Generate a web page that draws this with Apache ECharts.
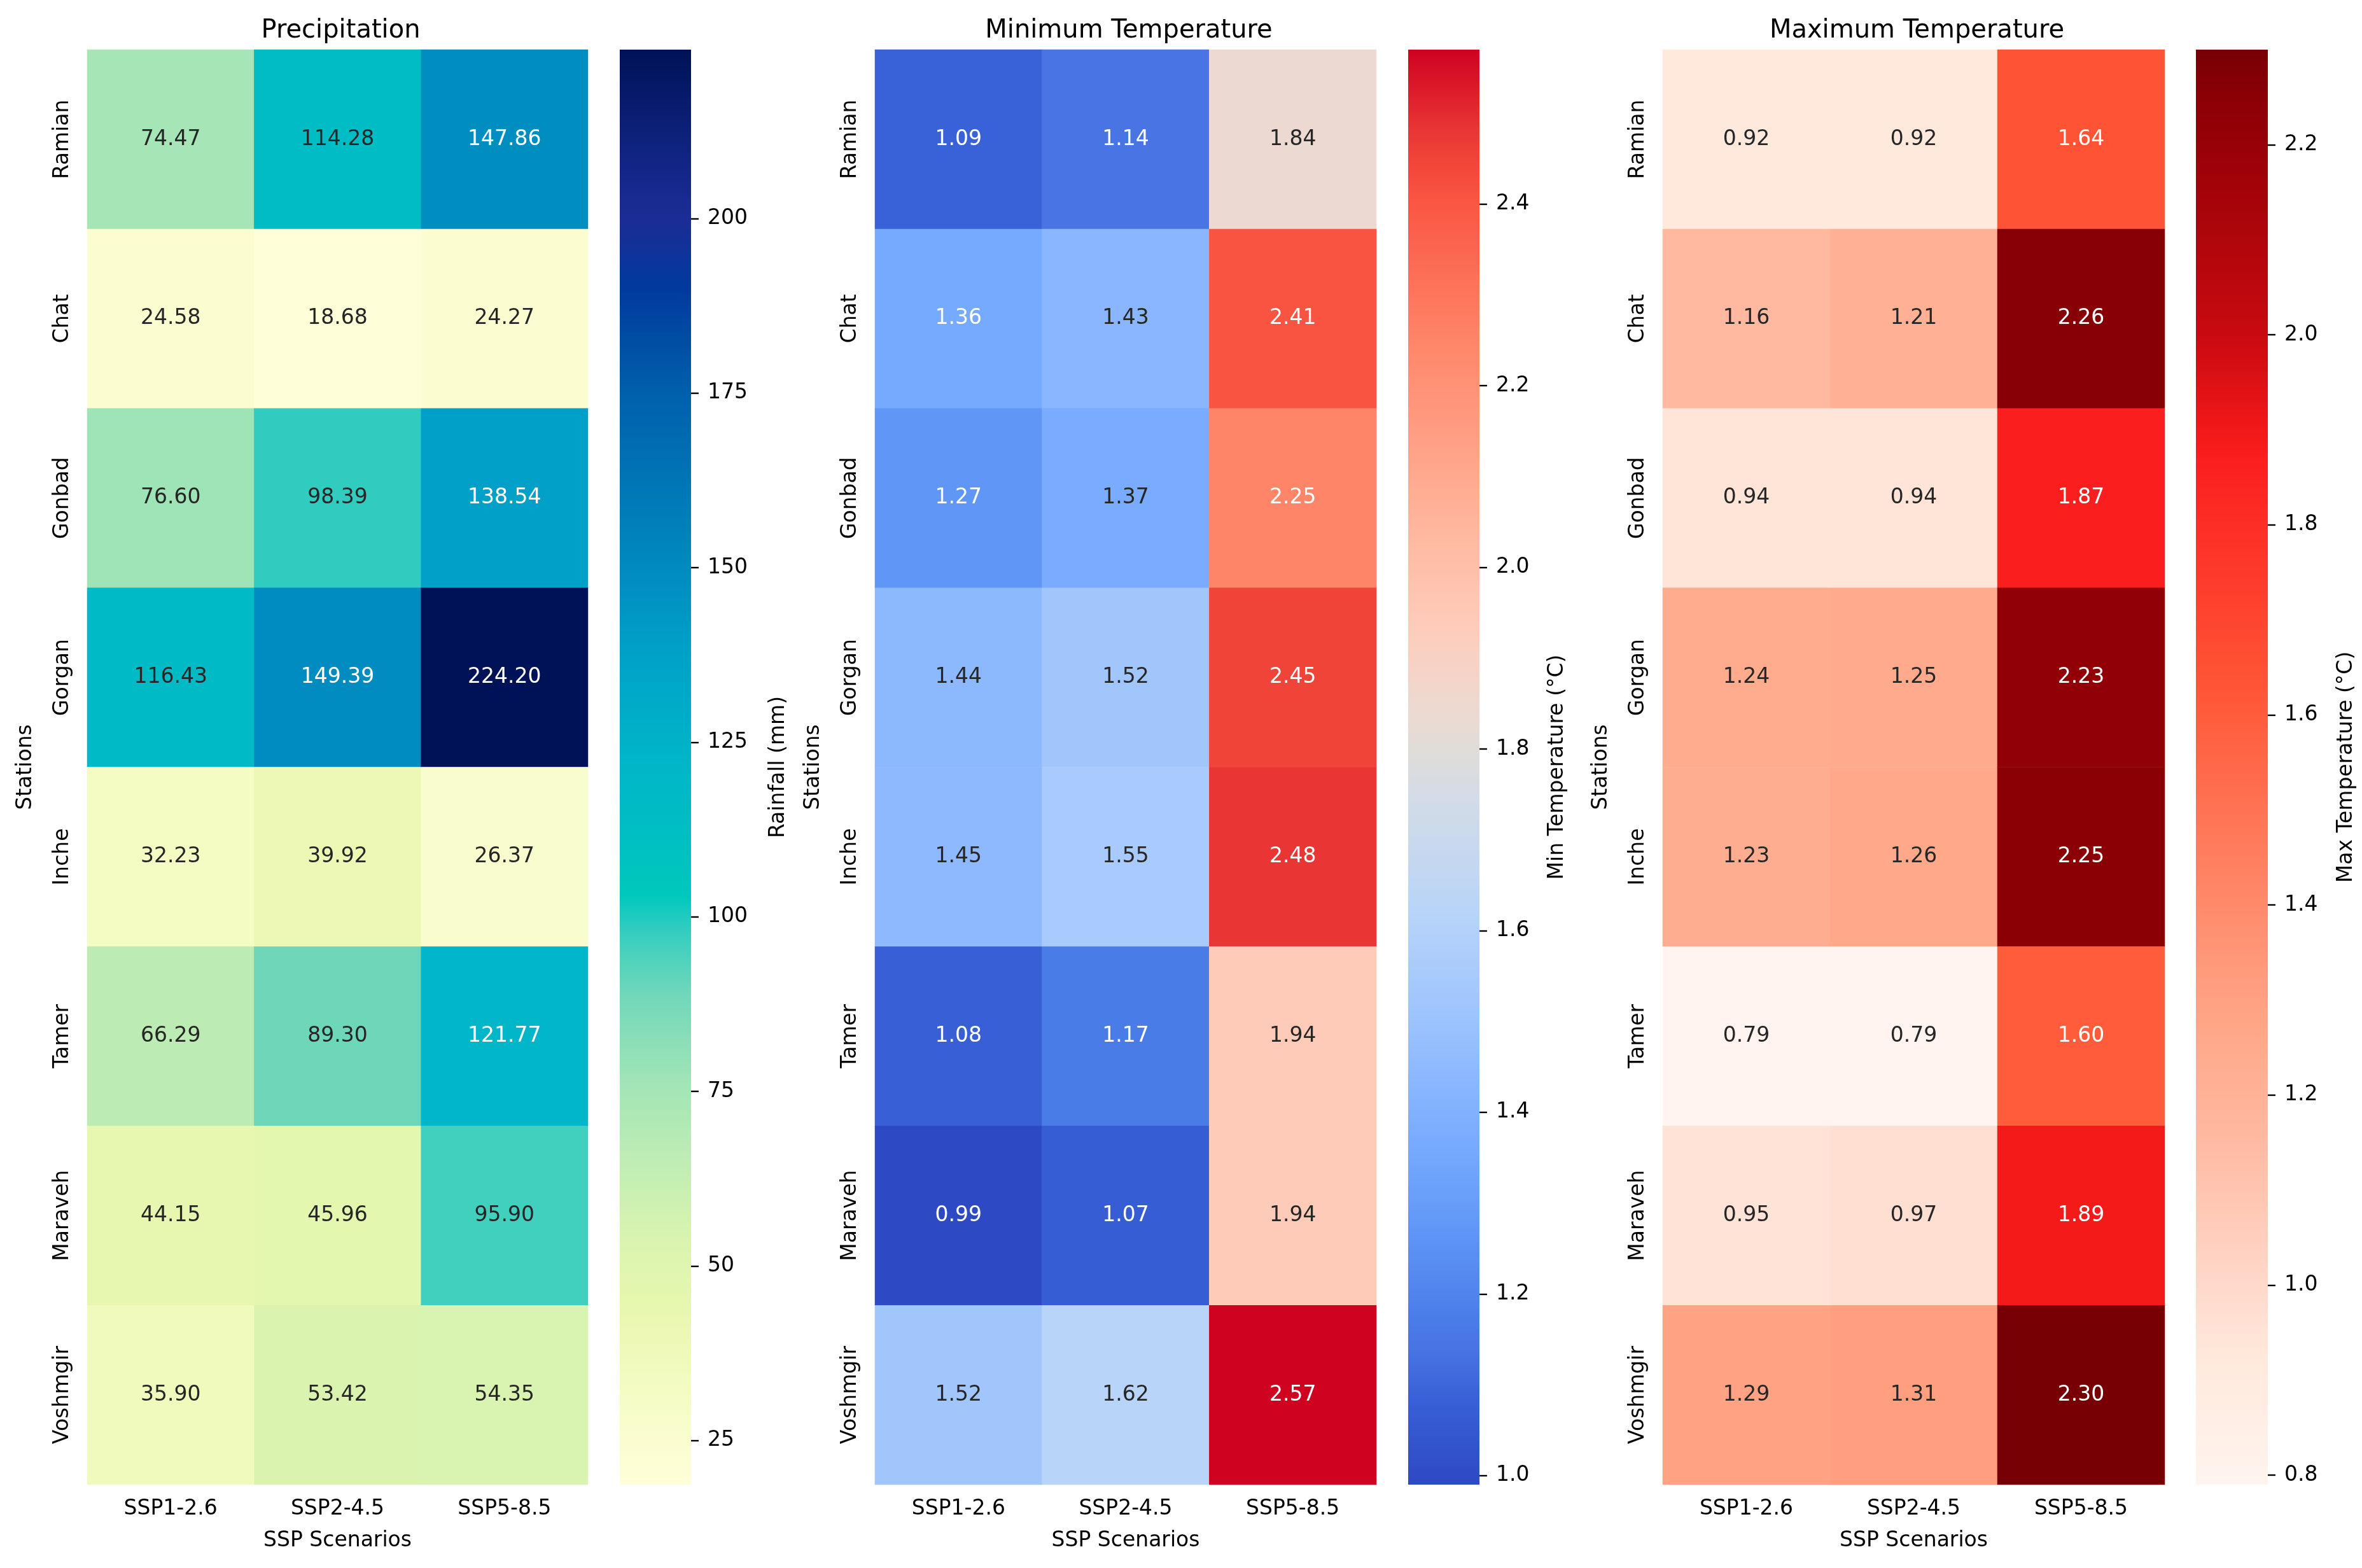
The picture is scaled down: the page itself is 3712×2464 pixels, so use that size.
<!DOCTYPE html>
<html>
<head>
<meta charset="utf-8">
<style>html,body{margin:0;padding:0;background:#fff}#c{width:3712px;height:2464px}</style>
<script src="https://cdn.jsdelivr.net/npm/echarts@6/dist/echarts.min.js"></script>
</head>
<body>
<div id="c"></div>
<script>
const stations = ['Ramian','Chat','Gonbad','Gorgan','Inche','Tamer','Maraveh','Voshmgir'];
const scenarios = ['SSP1-2.6','SSP2-4.5','SSP5-8.5'];

const precip126 = [74.47,24.58,76.60,116.43,32.23,66.29,44.15,35.90];
const precip245 = [114.28,18.68,98.39,149.39,39.92,89.30,45.96,53.42];
const precip585 = [147.86,24.27,138.54,224.20,26.37,121.77,95.90,54.35];

const tmin126 = [1.09,1.36,1.27,1.44,1.45,1.08,0.99,1.52];
const tmin245 = [1.14,1.43,1.37,1.52,1.55,1.17,1.07,1.62];
const tmin585 = [1.84,2.41,2.25,2.45,2.48,1.94,1.94,2.57];

const tmax126 = [0.92,1.16,0.94,1.24,1.23,0.79,0.95,1.29];
const tmax245 = [0.92,1.21,0.94,1.25,1.26,0.79,0.97,1.31];
const tmax585 = [1.64,2.26,1.87,2.23,2.25,1.60,1.89,2.30];

const precipTicks = [25,50,75,100,125,150,175,200];
const tminTicks = [1.0,1.2,1.4,1.6,1.8,2.0,2.2,2.4];
const tmaxTicks = [0.8,1.0,1.2,1.4,1.6,1.8,2.0,2.2];

const precipStops = [[18.68,'#fefed8'],[24.5,'#fbfdd0'],[32.23,'#f4fcc4'],[39.92,'#edf8b5'],[45,'#e6f7ae'],[54,'#d9f4b0'],[66.29,'#bcecb4'],[76,'#a2e5b6'],[89.3,'#6ed7ba'],[95.9,'#42d0be'],[98.39,'#30ccc0'],[103,'#00c8bc'],[114.28,'#00bcc4'],[121.77,'#00b6c8'],[138.54,'#00a0c8'],[149,'#008cc0'],[175,'#0060ac'],[190,'#003a9c'],[200,'#1c2c96'],[210,'#0f2380'],[224.2,'#001257']];
const tminStops = [[0.99,'#2e49c4'],[1.08,'#385fd6'],[1.14,'#4874e4'],[1.17,'#4a7ce8'],[1.27,'#6096f6'],[1.36,'#76aafe'],[1.44,'#8cb8fe'],[1.52,'#a0c6fc'],[1.55,'#a8cafc'],[1.62,'#b8d4f8'],[1.75,'#d4dce6'],[1.80,'#e0dcd8'],[1.84,'#ecdad2'],[1.94,'#ffcbb9'],[2.05,'#ffb59c'],[2.25,'#ff8568'],[2.41,'#f95341'],[2.45,'#f04438'],[2.48,'#e93635'],[2.57,'#cf0220']];
const tmaxStops = [[0.79,'#fff4ef'],[0.92,'#ffe9dc'],[0.97,'#ffdfd2'],[1.16,'#ffb8a0'],[1.25,'#ffaa8c'],[1.31,'#ff9f80'],[1.6,'#ff5c3c'],[1.64,'#ff5335'],[1.87,'#fb1e1e'],[1.89,'#f51a1a'],[2.0,'#c80a10'],[2.23,'#900006'],[2.26,'#870005'],[2.30,'#770004']];

const FONT = 'DejaVu Sans';
const DARK = '#262626';
const panels = [
  {title:'Precipitation', cols:[precip126,precip245,precip585], stops:precipStops, ticks:precipTicks, dec:0,
   name:'Rainfall (mm)', left:137, right:924, cbL:974, cbR:1086, nameGap:121, white:v=>v>=120},
  {title:'Minimum Temperature', cols:[tmin126,tmin245,tmin585], stops:tminStops, ticks:tminTicks, dec:1,
   name:'Min Temperature (°C)', left:1375, right:2163, cbL:2213, cbR:2325, nameGap:106, white:v=>v<=1.36||v>=2.2},
  {title:'Maximum Temperature', cols:[tmax126,tmax245,tmax585], stops:tmaxStops, ticks:tmaxTicks, dec:1,
   name:'Max Temperature (°C)', left:2613, right:3402, cbL:3451, cbR:3564, nameGap:107, white:v=>v>=1.5}
];
const TOP = 78, BOTTOM = 2333, H = BOTTOM - TOP;

function hex2(c){return [1,3,5].map(i=>parseInt(c.substr(i,2),16));}
function sample(stops,n){
  const lo=stops[0][0], hi=stops[stops.length-1][0], out=[];
  for(let i=0;i<n;i++){
    const v=lo+(hi-lo)*i/(n-1);
    let k=0; while(k<stops.length-2 && v>stops[k+1][0]) k++;
    const a=stops[k], b=stops[k+1], t=(v-a[0])/(b[0]-a[0]);
    const ca=hex2(a[1]), cb=hex2(b[1]);
    out.push('rgb('+ca.map((x,j)=>Math.round(x+(cb[j]-x)*t)).join(',')+')');
  }
  return out;
}

const grid=[], xAxis=[], yAxis=[], series=[], visualMap=[], title=[];
panels.forEach((p,i)=>{
  const lo=p.stops[0][0], hi=p.stops[p.stops.length-1][0];
  const gH=grid.length, gC=gH+1;
  grid.push({left:p.left, top:TOP, width:p.right-p.left, height:H, containLabel:false});
  grid.push({left:p.cbL, top:TOP, width:p.cbR-p.cbL, height:H, containLabel:false});
  title.push({text:p.title, left:(p.left+p.right)/2, top:24, textAlign:'center',
    textStyle:{fontFamily:FONT,fontSize:40,fontWeight:'normal',color:'#000'}});

  xAxis.push({type:'category',gridIndex:gH,data:scenarios,position:'bottom',
    name:'SSP Scenarios',nameLocation:'middle',nameGap:72,
    nameTextStyle:{fontFamily:FONT,fontSize:33,color:'#000'},
    axisLine:{show:false},axisTick:{alignWithLabel:true,length:12,lineStyle:{color:'#000',width:2.4}},
    axisLabel:{fontFamily:FONT,fontSize:33,color:'#000',margin:22,interval:0},splitLine:{show:false}});
  yAxis.push({type:'category',gridIndex:gH,data:stations,inverse:true,
    name:'Stations',nameLocation:'middle',nameGap:80,nameRotate:90,
    nameTextStyle:{fontFamily:FONT,fontSize:33,color:'#000'},
    axisLine:{show:false},axisTick:{alignWithLabel:true,length:12,lineStyle:{color:'#000',width:2.4}},
    axisLabel:{fontFamily:FONT,fontSize:33,color:'#000',rotate:90,margin:22,interval:0},splitLine:{show:false}});

  xAxis.push({type:'category',gridIndex:gC,data:[''],show:false});
  yAxis.push({type:'value',gridIndex:gC,position:'right',min:lo,max:hi,
    name:p.name,nameLocation:'middle',nameGap:p.nameGap,nameRotate:90,
    nameTextStyle:{fontFamily:FONT,fontSize:33,color:'#000'},
    axisLine:{show:false},splitLine:{show:false},
    axisTick:{show:true,length:12,customValues:p.ticks,lineStyle:{color:'#000',width:2.4}},
    axisLabel:{fontFamily:FONT,fontSize:33,color:'#000',margin:26,customValues:p.ticks,
      formatter:v=>Number(v).toFixed(p.dec)}});

  const data=[];
  p.cols.forEach((col,x)=>col.forEach((v,y)=>data.push({value:[x,y,v],
    label:{color:p.white(v)?'#fff':DARK}})));
  const si=series.length;
  series.push({type:'heatmap',xAxisIndex:gH,yAxisIndex:gH,data,progressive:0,
    itemStyle:{borderWidth:0},emphasis:{disabled:true},
    label:{show:true,fontFamily:FONT,fontSize:33,formatter:o=>o.value[2].toFixed(2)}});
  visualMap.push({show:false,seriesIndex:si,dimension:2,min:lo,max:hi,
    inRange:{color:sample(p.stops,256)}});

  const colorStops=p.stops.map(s=>({offset:(hi-s[0])/(hi-lo),color:s[1]})).reverse();
  series.push({type:'custom',xAxisIndex:gC,yAxisIndex:gC,silent:true,clip:false,
    data:[[0,lo,hi]],encode:{x:0,y:[1,2]},
    renderItem:(params,api)=>{
      const c=params.coordSys, a=api.coord([0,api.value(2)]), b=api.coord([0,api.value(1)]);
      return {type:'rect',shape:{x:c.x,y:a[1],width:c.width,height:b[1]-a[1]},
        style:{fill:new echarts.graphic.LinearGradient(0,0,0,1,colorStops)}};
    }});
});

const chart=echarts.init(document.getElementById('c'),null,{width:3712,height:2464,renderer:'canvas'});
chart.setOption({animation:false,backgroundColor:'#fff',title,grid,xAxis,yAxis,visualMap,series});
</script>
</body>
</html>
